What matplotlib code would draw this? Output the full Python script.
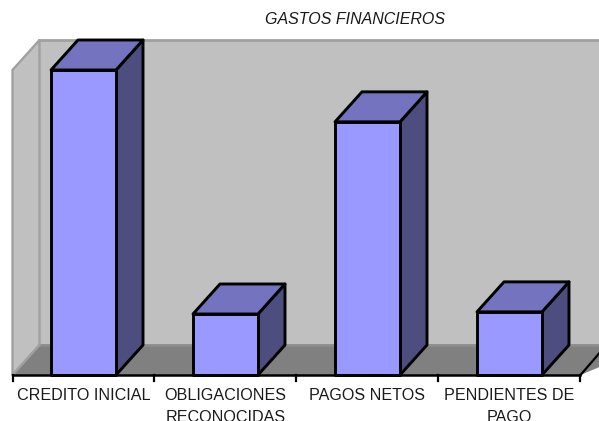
import numpy as np
import matplotlib.pyplot as plt
from matplotlib.patches import Polygon

plt.rcParams['font.family'] = ['Liberation Sans', 'DejaVu Sans']

# Datos del grafico
categorias = ['CREDITO INICIAL', 'OBLIGACIONES\nRECONOCIDAS', 'PAGOS NETOS', 'PENDIENTES DE\nPAGO']
valores = [100, 20, 83, 20.7]

W, H = 599, 421
px_x = 142.0          # pixeles por categoria
px_y = 3.05           # pixeles por unidad de valor
x0_px, y0_px = 83.5, 375.0

fig = plt.figure(figsize=(W / 100, H / 100), dpi=100)
ax = fig.add_axes([0, 0, 1, 1])
ax.set_xlim(-x0_px / px_x, (W - x0_px) / px_x)
ax.set_ylim(-(H - y0_px) / px_y, y0_px / px_y)
ax.axis('off')

# profundidad 3D
dx = 27 / px_x
dy = 30 / px_y
ancho = 65 / px_x
izq = -0.5
der = 3.5
tope = 100.0

# pared del fondo, pared izquierda, piso
ax.add_patch(Polygon([(izq + dx, dy), (izq + dx, tope + dy), (4, tope + dy), (4, dy)],
                     fc='#c0c0c0', ec='none', zorder=1))
ax.add_patch(Polygon([(izq, 0), (izq, tope), (izq + dx, tope + dy), (izq + dx, dy)],
                     fc='#c0c0c0', ec='#a0a0a0', lw=1.7, zorder=2))
ax.add_patch(Polygon([(izq, 0), (izq + dx, dy), (4, dy), (der, 0)],
                     fc='#808080', ec='none', zorder=3))
ax.plot([izq + dx, 4], [tope + dy, tope + dy], color='#a0a0a0', lw=2, zorder=2)
ax.plot([izq + dx, 4], [dy, dy], color='#8c8c8c', lw=2, zorder=3)
ax.plot([izq, izq + dx], [0, dy], color='#a0a0a0', lw=1.7, zorder=4)

# barras
estilo = dict(ec='black', lw=2.1, joinstyle='round', zorder=5)
for i, v in enumerate(valores):
    a, b = i - ancho / 2, i + ancho / 2
    ax.add_patch(Polygon([(b, 0), (b + dx, dy), (b + dx, v + dy), (b, v)], fc='#4d4d80', **estilo))
    ax.add_patch(Polygon([(a, v), (a + dx, v + dy), (b + dx, v + dy), (b, v)], fc='#7373bf', **estilo))
    ax.add_patch(Polygon([(a, 0), (a, v), (b, v), (b, 0)], fc='#9999ff', **estilo))

# eje y marcas
ax.plot([izq, der], [0, 0], color='black', lw=1.8, zorder=6)
ax.plot([der, der + 19 / px_x], [0, 22 / px_y], color='black', lw=1.6, zorder=4)
for m in np.arange(izq, der + 0.5):
    ax.plot([m, m], [0, -6 / px_y], color='black', lw=1.6, zorder=6)

for i, c in enumerate(categorias):
    ax.text(i, -13.5 / px_y, c, ha='center', va='top', fontsize=11.6, color='#1a1a1a',
            linespacing=1.5, clip_on=True)

ax.text(355 / W, 1 - 19 / H, 'GASTOS FINANCIEROS', transform=ax.transAxes, ha='center', va='center',
        fontsize=11.5, style='italic', color='#1a1a1a')

fig.savefig('out.png', dpi=100)
